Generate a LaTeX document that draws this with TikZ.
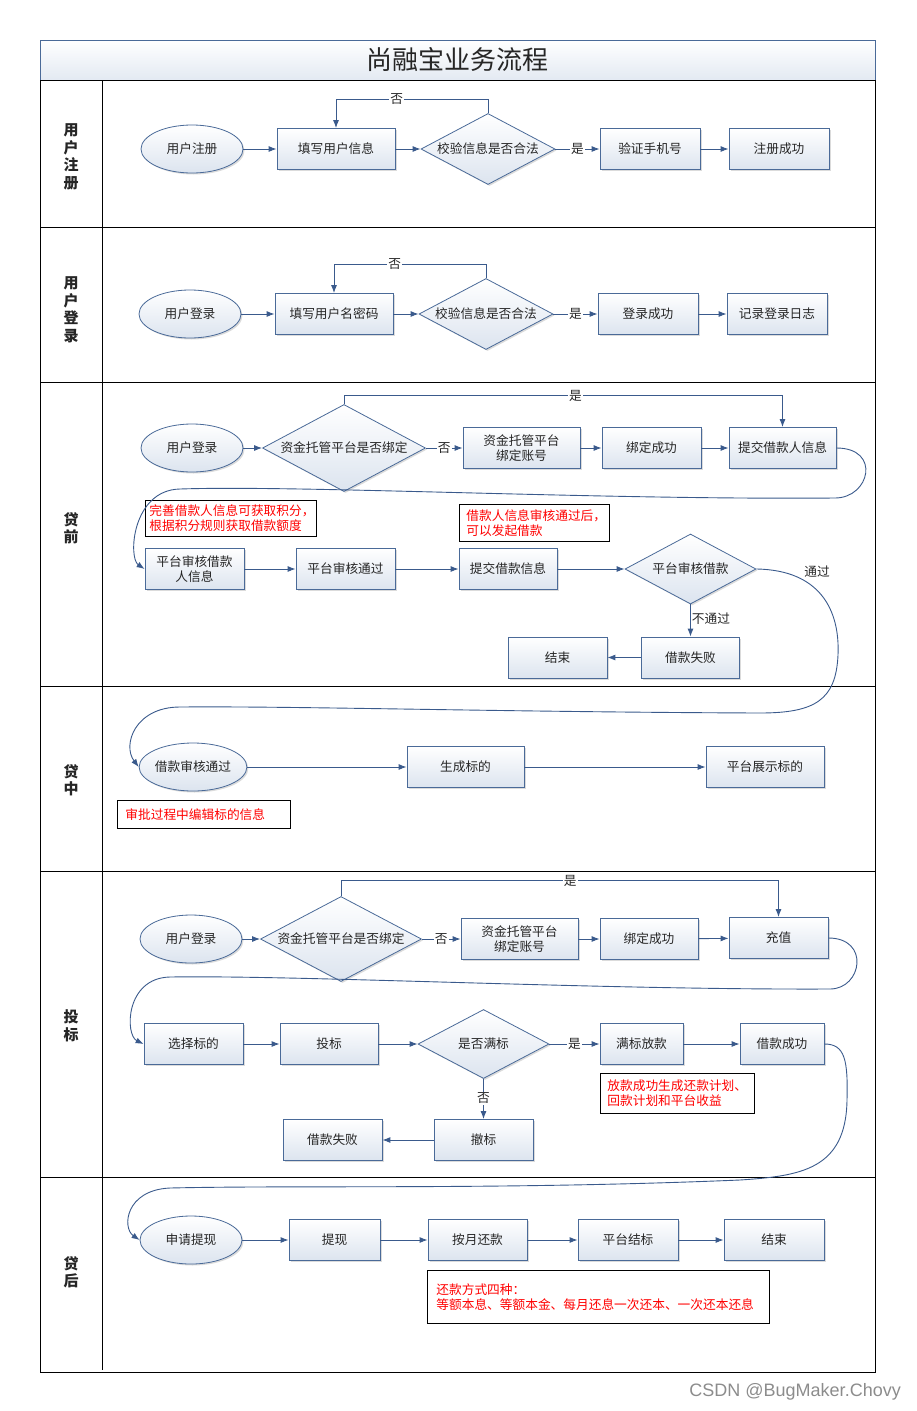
\documentclass[tikz,border=0pt]{standalone}
\usepackage{fontspec}
\setmainfont{Noto Sans CJK SC}
\newfontfamily\wmfont{Liberation Sans}
\usetikzlibrary{arrows.meta,shapes.geometric,shadows}
\definecolor{nb}{HTML}{4A6A98}
\definecolor{nf}{HTML}{DCE4EF}
\definecolor{ln}{HTML}{3A5A8C}
\definecolor{tx}{HTML}{262626}
\tikzset{
  fc/.style={draw=nb, line width=0.8pt, top color=white, bottom color=nf, text=tx,
    font=\fontsize{12.7}{15}\selectfont, align=center, inner sep=0pt,
    drop shadow={shadow xshift=1.5pt, shadow yshift=-1.5pt, fill=black!14, opacity=1}},
  box/.style={fc, rectangle, minimum width=#1, minimum height=41},
  box/.default=99,
  ell/.style={fc, ellipse, minimum width=102, minimum height=48},
  dia/.style 2 args={fc, diamond, aspect=1.88, minimum width=#1, minimum height=#2},
  arr/.style={draw=ln, line width=0.9pt, -{Latex[length=8pt,width=6pt]}},
  lab/.style={fill=white, inner sep=1pt, text=tx, font=\fontsize{12.7}{15}\selectfont},
  plain/.style={inner sep=1pt, text=tx, font=\fontsize{12.7}{15}\selectfont},
  note/.style={draw=black, line width=0.8pt, fill=white, text=red, anchor=north west,
    font=\fontsize{12.7}{15}\selectfont, align=left, inner ysep=0pt},
  lane/.style={text=tx, font=\fontsize{15}{17.5}\selectfont\bfseries, align=center, inner sep=0pt},
}
\begin{document}
\begin{tikzpicture}[x=1pt,y=-1pt]
\useasboundingbox (0,0) rectangle (917,1411);

% title
\node[draw=nb, line width=0.9pt, top color=white, bottom color=nf!80, minimum width=835, minimum height=40,
  inner sep=0pt, font=\fontsize{26}{30}\selectfont, text=tx] (title) at (457.5,60) {尚融宝业务流程};

% lanes
\draw[line width=1pt] (40,80) rectangle (875,1372);
\foreach \yy in {227,382,686,871,1177} \draw[line width=1pt] (40,\yy) -- (875,\yy);
\draw[line width=1pt] (102,80) -- (102,1370);

\node[lane] (l1) at (71,157) {用\\户\\注\\册};
\node[lane] (l2) at (71,310) {用\\户\\登\\录};
\node[lane] (l3) at (71,528) {贷\\前};
\node[lane] (l4) at (71,780) {贷\\中};
\node[lane] (l5) at (71,1026) {投\\标};
\node[lane] (l6) at (71,1272) {贷\\后};

% lane 1
\node[ell] (a1) at (192,149) {用户注册};
\node[box=118] (a2) at (336,149) {填写用户信息};
\node[dia={134}{71}] (a3) at (488,149) {校验信息是否合法};
\node[box=100] (a4) at (650,149) {验证手机号};
\node[box=100] (a5) at (779,149) {注册成功};
\draw[arr] (a1) -- (a2);
\draw[arr] (a2) -- (a3);
\draw[arr] (a3) -- node[lab]{是} (a4);
\draw[arr] (a4) -- (a5);
\draw[arr] (a3.north) -- ++(0,-14) -| node[lab,pos=0.3]{否} (a2.north);

% lane 2
\node[ell] (b1) at (190,314) {用户登录};
\node[box=118] (b2) at (334,314) {填写用户名密码};
\node[dia={134}{71}] (b3) at (486,314) {校验信息是否合法};
\node[box=100] (b4) at (648,314) {登录成功};
\node[box=100] (b5) at (777,314) {记录登录日志};
\draw[arr] (b1) -- (b2);
\draw[arr] (b2) -- (b3);
\draw[arr] (b3) -- node[lab]{是} (b4);
\draw[arr] (b4) -- (b5);
\draw[arr] (b3.north) -- ++(0,-14) -| node[lab,pos=0.3]{否} (b2.north);

% lane 3
\node[ell] (c1) at (192,448) {用户登录};
\node[dia={163}{87}] (c2) at (344,448) {资金托管平台是否绑定};
\node[box=117] (c3) at (521.5,448) {资金托管平台\\绑定账号};
\node[box=99] (c4) at (651.5,448) {绑定成功};
\node[box=107] (c5) at (782.5,448) {提交借款人信息};
\draw[arr] (c1) -- (c2);
\draw[arr] (c2) -- node[lab]{否} (c3);
\draw[arr] (c3) -- (c4);
\draw[arr] (c4) -- (c5);
\draw[arr] (c2.north) -- ++(0,-8.5) -| node[lab,pos=0.264]{是} (c5.north);

\node[note, minimum width=171, minimum height=36, inner xsep=4pt, text width=163] (r1) at (145,500)
  {完善借款人信息可获取积分，\\根据积分规则获取借款额度};
\node[note, minimum width=150, minimum height=37, inner xsep=7pt, text width=136] (r2) at (459,504)
  {借款人信息审核通过后，\\可以发起借款};

\node[box=99] (c6) at (194.5,569) {平台审核借款\\人信息};
\node[box=99] (c7) at (345.5,569) {平台审核通过};
\node[box=98] (c8) at (508,569) {提交借款信息};
\node[dia={131}{70}] (c9) at (690.5,569) {平台审核借款};
\node[box=98] (c10) at (690.5,657.5) {借款失败};
\node[box=99] (c11) at (557.5,657.5) {结束};
\draw[arr] (c6) -- (c7);
\draw[arr] (c7) -- (c8);
\draw[arr] (c8) -- (c9);
\draw[arr] (c9.south) -- node[plain,right,pos=0.45]{不通过} (c10.north);
\draw[arr] (c10) -- (c11);
\node[plain] (t1) at (817,572) {通过};

% lane 4
\node[ell] (d1) at (193,767) {借款审核通过};
\node[box=117] (d2) at (465.5,767) {生成标的};
\node[box=118] (d3) at (765,767) {平台展示标的};
\draw[arr] (d1) -- (d2);
\draw[arr] (d2) -- (d3);
\node[note, minimum width=173, minimum height=28, inner xsep=8pt, text width=157] (r3) at (117,800)
  {审批过程中编辑标的信息};

% lane 5
\node[ell] (e1) at (191,939) {用户登录};
\node[dia={161}{85}] (e2) at (341,939) {资金托管平台是否绑定};
\node[box=117] (e3) at (519.5,939) {资金托管平台\\绑定账号};
\node[box=98] (e4) at (649,939) {绑定成功};
\node[box=99] (e5) at (778.5,938) {充值};
\draw[arr] (e1) -- (e2);
\draw[arr] (e2) -- node[lab]{否} (e3);
\draw[arr] (e3) -- (e4);
\draw[arr] (e4) -- (e5);
\draw[arr] (e2.north) -- ++(0,-15.5) -| node[lab,pos=0.262]{是} (e5.north);

\node[box=99] (e6) at (193.5,1044) {选择标的};
\node[box=98] (e7) at (329,1044) {投标};
\node[dia={131}{69}] (e8) at (483.5,1044) {是否满标};
\node[box=83] (e9) at (641.5,1044) {满标放款};
\node[box=84] (e10) at (782,1044) {借款成功};
\node[box=99] (e11) at (483.5,1140) {撤标};
\node[box=99] (e12) at (332.5,1140) {借款失败};
\draw[arr] (e6) -- (e7);
\draw[arr] (e7) -- (e8);
\draw[arr] (e8) -- node[lab]{是} (e9);
\draw[arr] (e9) -- (e10);
\draw[arr] (e8.south) -- node[lab,pos=0.48]{否} (e11.north);
\draw[arr] (e11) -- (e12);
\node[note, minimum width=154, minimum height=40, inner xsep=7pt, text width=140] (r4) at (600,1073)
  {放款成功生成还款计划、\\回款计划和平台收益};

% lane 6
\node[ell] (f1) at (191,1240) {申请提现};
\node[box=91] (f2) at (334.5,1240) {提现};
\node[box=99] (f3) at (477.5,1240) {按月还款};
\node[box=100] (f4) at (628,1240) {平台结标};
\node[box=100] (f5) at (774,1240) {结束};
\draw[arr] (f1) -- (f2);
\draw[arr] (f2) -- (f3);
\draw[arr] (f3) -- (f4);
\draw[arr] (f4) -- (f5);
\node[note, minimum width=342, minimum height=53, inner xsep=9pt, text width=324] (r5) at (427,1270)
  {还款方式四种：\\等额本息、等额本金、每月还息一次还本、一次还本还息};

% long curved connectors
\draw[arr] (c5.east) .. controls +(45,0) and +(35,0) .. (835,498)
  .. controls (600,500) and (300,485) .. (180,489)
  .. controls (132,490) and (128,558) .. (c6.west);

\draw[arr] (c9.east) .. controls (820,570) and (840,610) .. (838,655)
  .. controls (836,700) and (815,713) .. (760,713)
  .. controls (500,712) and (300,706) .. (180,707)
  .. controls (135,707) and (122,745) .. (d1.west);

\draw[arr] (e5.east) .. controls +(42,0) and +(32,0) .. (830,989)
  .. controls (600,990) and (300,975) .. (170,977)
  .. controls (125,978) and (125,1035) .. (e6.west);

\draw[arr] (e10.east) .. controls (845,1044) and (848,1060) .. (847,1100)
  .. controls (846,1170) and (800,1176) .. (740,1180)
  .. controls (500,1190) and (300,1185) .. (170,1188)
  .. controls (125,1190) and (122,1228) .. (f1.west);

% watermark
\node[text=black!45, font=\wmfont\fontsize{18}{20}\selectfont, anchor=east, inner sep=0pt] (wm) at (901,1392) {CSDN @BugMaker.Chovy};
\end{tikzpicture}
\end{document}
